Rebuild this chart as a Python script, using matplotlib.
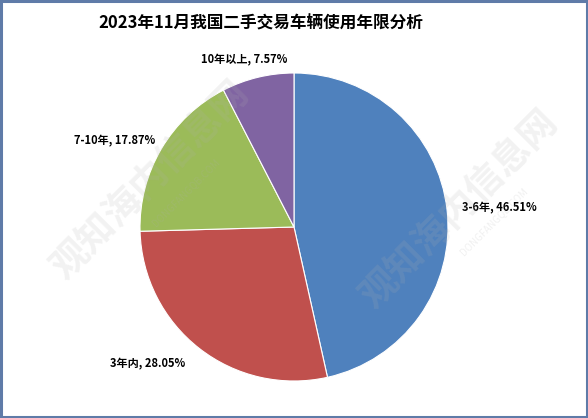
import matplotlib
matplotlib.use("Agg")
import matplotlib.pyplot as plt
import numpy as np
from matplotlib.patches import Rectangle

plt.rcParams['font.family'] = ['Noto Sans CJK SC', 'DejaVu Sans']

title = "2023年11月我国二手交易车辆使用年限分析"
categories = ["3-6年", "3年内", "7-10年", "10年以上"]
shares = [46.51, 28.05, 17.87, 7.57]
colors = ["#4f81bd", "#c0504d", "#9bbb59", "#8064a2"]
# label distance (in radii) and angle nudge per slice
label_dist = [1.34, 1.30, 1.29, 1.13]
label_nudge = [-1, -9, 5, 3]

fig = plt.figure(figsize=(5.88, 4.18), dpi=100)
fig.patch.set_facecolor("white")
fig.patches.append(Rectangle((0.002, 0.003), 0.996, 0.994, transform=fig.transFigure,
                             fill=False, edgecolor="#5f7ba8", linewidth=2.2))

# center (294, 227), radius 154 px
ax = fig.add_axes([(294 - 154) / 588, (418 - 227 - 154) / 418, 308 / 588, 308 / 418])
wedges, _ = ax.pie(shares, colors=colors, startangle=90, counterclock=False,
                   wedgeprops=dict(edgecolor="white", linewidth=0.8))
ax.set_xlim(-1, 1)
ax.set_ylim(-1, 1)
ax.set_aspect("equal")
ax.axis("off")

for w, cat, val, d, nd in zip(wedges, categories, shares, label_dist, label_nudge):
    mid = np.deg2rad((w.theta1 + w.theta2) / 2 + nd)
    ax.text(d * np.cos(mid), d * np.sin(mid), f"{cat}, {val:.2f}%",
            ha="center", va="center", fontsize=8, fontweight="bold", clip_on=False)

fig.text(261 / 588, 1 - 23 / 418, title, ha="center", va="center",
         fontsize=12, fontweight="bold")

# faint watermark
for x, y in [(0.255, 0.57), (0.78, 0.50)]:
    fig.text(x, y, "观知海内信息网", rotation=45, ha="center", va="center",
             fontsize=27, color="#b0b0b0", alpha=0.16, fontweight="bold")
    fig.text(x + 0.06, y - 0.03, "DONGFANGQB.COM", rotation=45, ha="center", va="center",
             fontsize=7, color="#b0b0b0", alpha=0.18)

fig.savefig("out.png", dpi=100)
